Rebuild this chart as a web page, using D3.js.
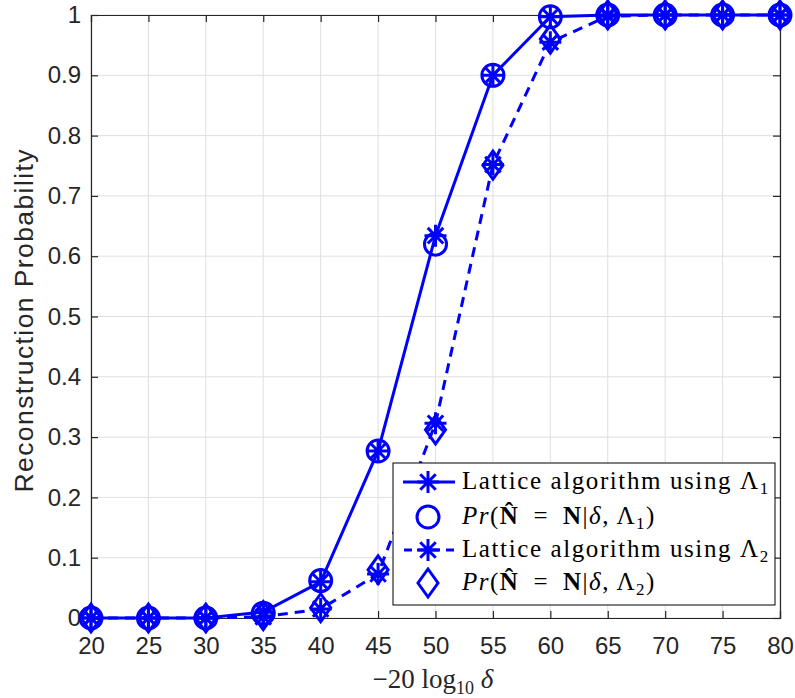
<!DOCTYPE html>
<html><head><meta charset="utf-8">
<script src="https://cdn.jsdelivr.net/npm/d3@7"></script>
<style>body{margin:0;background:#fff}svg{display:block}</style>
</head><body>
<svg id="c" width="795" height="698"></svg>
<script>
const xValues = [20,25,30,35,40,45,50,55,60,65,70,75,80];
const lattice1 = [0,0,0,0.010,0.060,0.277,0.634,0.900,0.997,1,1,1,1];
const prob1    = [0,0,0,0.008,0.062,0.277,0.620,0.900,0.997,1,1,1,1];
const lattice2 = [0,0,0,0.002,0.015,0.073,0.323,0.752,0.955,0.998,1,1,1];
const prob2    = [0,0,0,0.004,0.017,0.080,0.312,0.751,0.960,1,1,1,1];
const xTicks = [20,25,30,35,40,45,50,55,60,65,70,75,80];
const yTicks = [0,0.1,0.2,0.3,0.4,0.5,0.6,0.7,0.8,0.9,1];

const svg = d3.select("#c");
const L=91,R=780,T=15,B=618;
const x = d3.scaleLinear().domain([20,80]).range([L,R]);
const y = d3.scaleLinear().domain([0,1]).range([B,T]);
const blue="#0000ff", txt="#262626";
const sans="Liberation Sans, Arial, sans-serif";
const serif="Liberation Serif, Times New Roman, serif";

// grid
const g = svg.append("g");
g.selectAll(".gx").data(xTicks).join("line").attr("x1",d=>x(d)).attr("x2",d=>x(d)).attr("y1",T).attr("y2",B).attr("stroke","#dfdfdf").attr("stroke-width",1);
g.selectAll(".gy").data(yTicks).join("line").attr("y1",d=>y(d)).attr("y2",d=>y(d)).attr("x1",L).attr("x2",R).attr("stroke","#dfdfdf").attr("stroke-width",1);

// axes
const ax = svg.append("g").attr("transform",`translate(0,${B})`).call(d3.axisBottom(x).tickValues(xTicks).tickSize(-7).tickPadding(19).tickFormat(d3.format("d")));
const ay = svg.append("g").attr("transform",`translate(${L},0)`).call(d3.axisLeft(y).tickValues(yTicks).tickSize(-7).tickPadding(10).tickFormat(d=>d===0?"0":d===1?"1":d3.format(".1f")(d)));
const axT = svg.append("g").attr("transform",`translate(0,${T})`).call(d3.axisTop(x).tickValues(xTicks).tickSize(-7).tickFormat(""));
const ayR = svg.append("g").attr("transform",`translate(${R},0)`).call(d3.axisRight(y).tickValues(yTicks).tickSize(-7).tickFormat(""));
[ax,ay,axT,ayR].forEach(a=>{
  a.selectAll("path").attr("stroke",txt).attr("stroke-width",1.2);
  a.selectAll("line").attr("stroke",txt).attr("stroke-width",1.2);
  a.selectAll("text").attr("fill",txt).attr("font-family",sans).attr("font-size",24);
});
ax.selectAll("text").attr("dy","0.71em");

// axis labels
svg.append("text").attr("transform","translate(33,321) rotate(-90)").attr("text-anchor","middle")
  .attr("font-family",sans).attr("font-size",26.5).attr("fill",txt)
  .attr("textLength",343).attr("lengthAdjust","spacing").text("Reconstruction Probability");
const xl = svg.append("text").attr("x",433).attr("y",688).attr("text-anchor","middle").attr("font-family",serif).attr("font-size",27).attr("fill",txt);
xl.append("tspan").text("\u221220 log");
xl.append("tspan").attr("font-size",18).attr("dy",6).text("10");
xl.append("tspan").attr("dy",-6).attr("font-style","italic").text(" \u03b4");

// plot
const line = d3.line().x((d,i)=>x(xValues[i])).y(d=>y(d));
const plot = svg.append("g");
plot.append("path").datum(lattice1).attr("d",line).attr("fill","none").attr("stroke",blue).attr("stroke-width",3);
plot.append("path").datum(lattice2).attr("d",line).attr("fill","none").attr("stroke",blue).attr("stroke-width",3).attr("stroke-dasharray","10,7");

function star(s){ const a=s*0.7071;
  return `M${-s},0L${s},0M0,${-s}L0,${s}M${-a},${-a}L${a},${a}M${-a},${a}L${a},${-a}`; }
function diamond(w,h){return `M0,${-h}L${w},0L0,${h}L${-w},0Z`;}
const circ="M11,0A11,11 0 1,1 -11,0A11,11 0 1,1 11,0Z";

function drawMarkers(data, d){
  plot.selectAll(null).data(data).join("path")
    .attr("transform",(v,i)=>`translate(${x(xValues[i])},${y(v)})`)
    .attr("d",d).attr("fill","none").attr("stroke",blue).attr("stroke-width",3);
}
drawMarkers(lattice1,star(11));
drawMarkers(prob1,circ);
drawMarkers(lattice2,star(11));
drawMarkers(prob2,diamond(10,14));

// legend
const lg = svg.append("g");
lg.append("rect").attr("x",393).attr("y",463).attr("width",382).attr("height",142).attr("fill","#fff").attr("stroke","#000").attr("stroke-width",1);
const rows=[482,517,550,583];
lg.append("line").attr("x1",403).attr("x2",455).attr("y1",rows[0]).attr("y2",rows[0]).attr("stroke",blue).attr("stroke-width",3);
lg.append("path").attr("transform",`translate(428,${rows[0]})`).attr("d",star(11)).attr("stroke",blue).attr("stroke-width",3).attr("fill","none");
lg.append("path").attr("transform",`translate(428,${rows[1]})`).attr("d",circ).attr("stroke",blue).attr("stroke-width",3).attr("fill","none");
lg.append("line").attr("x1",403).attr("x2",455).attr("y1",rows[2]).attr("y2",rows[2]).attr("stroke",blue).attr("stroke-width",3).attr("stroke-dasharray","8,6").attr("stroke-dashoffset",-1);
lg.append("path").attr("transform",`translate(428,${rows[2]})`).attr("d",star(11)).attr("stroke",blue).attr("stroke-width",3).attr("fill","none");
lg.append("path").attr("transform",`translate(428,${rows[3]})`).attr("d",diamond(10,14)).attr("stroke",blue).attr("stroke-width",3).attr("fill","none");

function latticeText(yy,sub){
  const t=lg.append("text").attr("x",462).attr("y",yy+7).attr("font-family",serif).attr("font-size",25).attr("fill","#000").attr("letter-spacing",1.6);
  t.append("tspan").text("Lattice algorithm using \u039b");
  t.append("tspan").attr("font-size",17).attr("dy",5).text(sub);
}
function prText(yy,sub){
  const t=lg.append("text").attr("x",462).attr("y",yy+7).attr("font-family",serif).attr("font-size",25).attr("fill","#000").attr("letter-spacing",1.5);
  t.append("tspan").attr("font-style","italic").text("Pr");
  t.append("tspan").text("(");
  t.append("tspan").attr("font-weight","bold").text("N\u0302");
  t.append("tspan").text("\u2002=\u2002");
  t.append("tspan").attr("font-weight","bold").text("N");
  t.append("tspan").text("|");
  t.append("tspan").attr("font-style","italic").text("\u03b4");
  t.append("tspan").text(",\u2009\u039b");
  t.append("tspan").attr("font-size",17).attr("dy",5).text(sub);
  t.append("tspan").attr("dy",-5).text(")");
}
latticeText(rows[0],"1");
prText(rows[1],"1");
latticeText(rows[2],"2");
prText(rows[3],"2");
</script>
</body></html>
